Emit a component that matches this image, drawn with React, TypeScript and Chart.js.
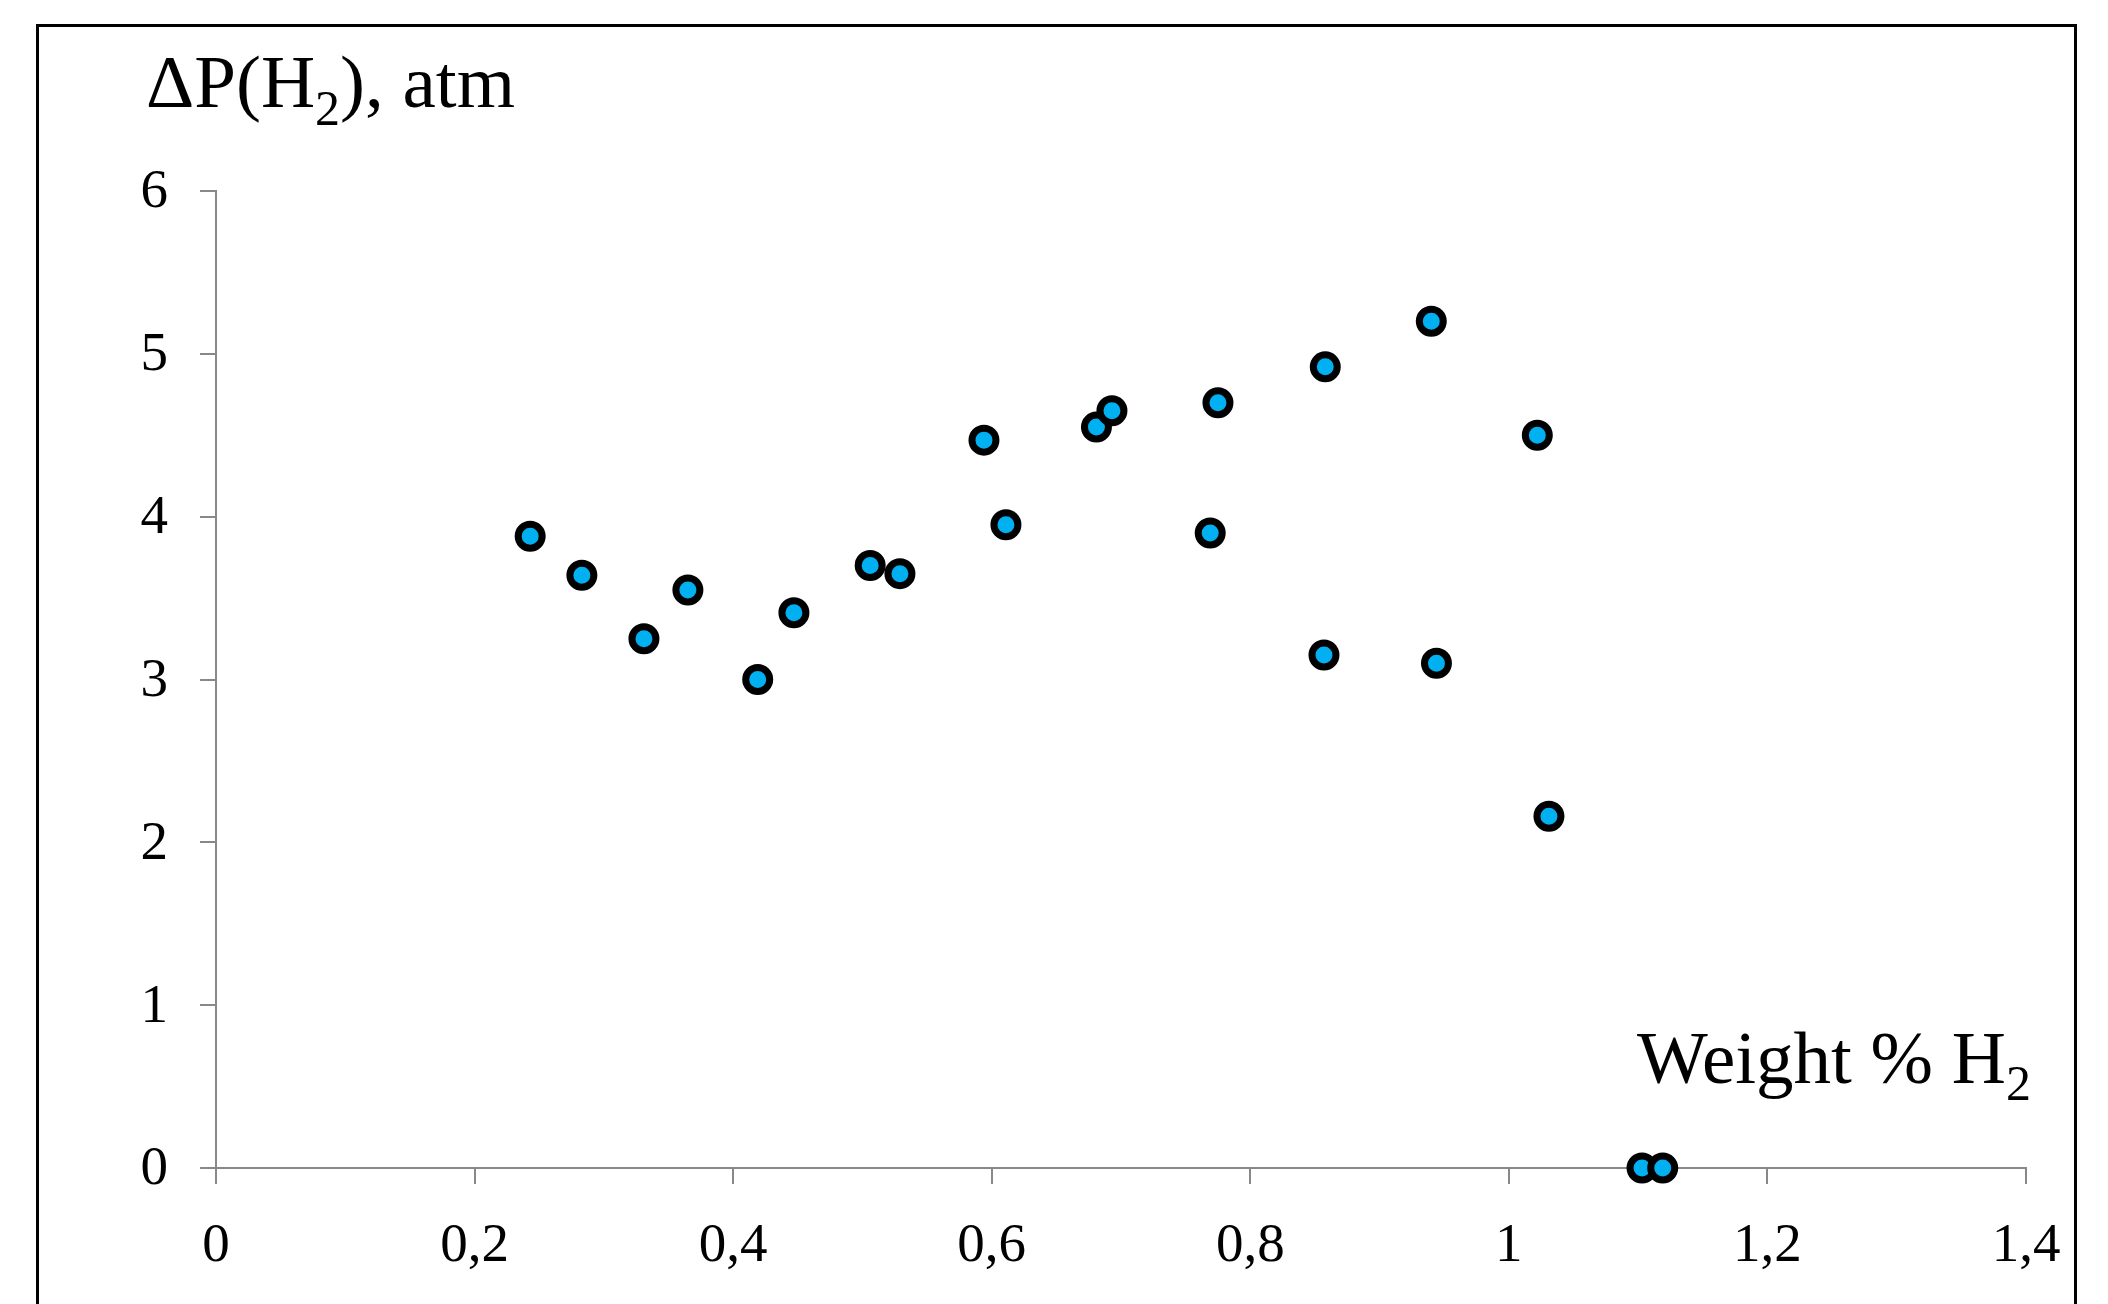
import React, { useEffect, useRef } from "react";
import { Chart, registerables } from "chart.js";

Chart.register(...registerables);

const weightH2 = [
  0.243, 0.283, 0.331, 0.365, 0.419, 0.447, 0.506, 0.529, 0.594, 0.611,
  0.681, 0.693, 0.769, 0.775, 0.857, 0.858, 0.94, 0.944, 1.022, 1.031,
  1.103, 1.119,
];
const deltaP = [
  3.88, 3.64, 3.25, 3.55, 3.0, 3.41, 3.70, 3.65, 4.47, 3.95,
  4.55, 4.65, 3.90, 4.70, 3.15, 4.92, 5.20, 3.10, 4.50, 2.16,
  0.0, 0.0,
];
const xTickValues = [0, 0.2, 0.4, 0.6, 0.8, 1, 1.2, 1.4];
const xTickLabels = ["0", "0,2", "0,4", "0,6", "0,8", "1", "1,2", "1,4"];
const yTickValues = [0, 1, 2, 3, 4, 5, 6];
const yTickLabels = ["0", "1", "2", "3", "4", "5", "6"];
const yTitleMain = "ΔP(H";
const yTitleSub = "2";
const yTitleEnd = "), atm";
const xTitleMain = "Weight % H";
const xTitleSub = "2";

const FONT = '"Liberation Serif", "Times New Roman", serif';

export default function App() {
  const ref = useRef<HTMLCanvasElement | null>(null);

  useEffect(() => {
    if (!ref.current) return;
    const decor = {
      id: "decor",
      beforeDraw(chart: any) {
        const ctx = chart.ctx;
        ctx.save();
        ctx.fillStyle = "#ffffff";
        ctx.fillRect(0, 0, chart.width, chart.height);
        ctx.strokeStyle = "#000000";
        ctx.lineWidth = 3;
        ctx.strokeRect(37.5, 25.5, 2038, 1400);
        ctx.restore();
      },
      afterDraw(chart: any) {
        const ctx = chart.ctx;
        ctx.save();
        ctx.fillStyle = "#000000";
        ctx.textBaseline = "alphabetic";
        ctx.textAlign = "left";
        // y-axis title
        let x = 146;
        ctx.font = `75px ${FONT}`;
        ctx.fillText(yTitleMain, x, 107);
        x += ctx.measureText(yTitleMain).width;
        ctx.font = `50px ${FONT}`;
        ctx.fillText(yTitleSub, x, 125);
        x += ctx.measureText(yTitleSub).width;
        ctx.font = `75px ${FONT}`;
        ctx.fillText(yTitleEnd, x, 107);
        // x-axis title (right aligned)
        ctx.font = `75px ${FONT}`;
        const w1 = ctx.measureText(xTitleMain).width;
        ctx.font = `50px ${FONT}`;
        const w2 = ctx.measureText(xTitleSub).width;
        const right = 2031;
        const xs = right - w1 - w2;
        ctx.font = `75px ${FONT}`;
        ctx.fillText(xTitleMain, xs, 1083);
        ctx.font = `50px ${FONT}`;
        ctx.fillText(xTitleSub, xs + w1, 1100);
        ctx.restore();
      },
    };

    const chart = new Chart(ref.current, {
      type: "scatter",
      data: {
        datasets: [
          {
            data: weightH2.map((v, i) => ({ x: v, y: deltaP[i] })),
            backgroundColor: "#00B0F0",
            borderColor: "#000000",
            pointRadius: 12,
            pointBorderWidth: 7,
            pointHoverRadius: 12,
            clip: false as any,
          },
        ],
      },
      options: {
        animation: false,
        responsive: false,
        devicePixelRatio: 1,
        layout: { padding: { left: 0, top: 191, right: 82, bottom: 0 } },
        plugins: {
          legend: { display: false },
          tooltip: { enabled: false },
          title: { display: false },
        },
        scales: {
          x: {
            type: "linear",
            min: 0,
            max: 1.4,
            afterBuildTicks: (scale: any) => {
              scale.ticks = xTickValues.map((v) => ({ value: v }));
            },
            afterFit: (scale: any) => {
              scale.height = 136;
            },
            grid: {
              drawOnChartArea: false,
              drawTicks: true,
              tickLength: 16,
              color: "#888888",
              lineWidth: 2,
            },
            border: { color: "#888888", width: 2 },
            ticks: {
              autoSkip: false,
              maxRotation: 0,
              padding: 30,
              color: "#000000",
              font: { family: FONT, size: 55 },
              callback: (value: any) => {
                const idx = xTickValues.findIndex((t) => Math.abs(t - Number(value)) < 1e-6);
                return idx >= 0 ? xTickLabels[idx] : "";
              },
            },
          },
          y: {
            type: "linear",
            min: 0,
            max: 6,
            afterBuildTicks: (scale: any) => {
              scale.ticks = yTickValues.map((v) => ({ value: v }));
            },
            afterFit: (scale: any) => {
              scale.width = 216;
            },
            grid: {
              drawOnChartArea: false,
              drawTicks: true,
              tickLength: 16,
              color: "#888888",
              lineWidth: 2,
            },
            border: { color: "#888888", width: 2 },
            ticks: {
              autoSkip: false,
              padding: 32,
              labelOffset: 2,
              color: "#000000",
              font: { family: FONT, size: 55 },
              callback: (value: any) => {
                const idx = yTickValues.findIndex((t) => Math.abs(t - Number(value)) < 1e-6);
                return idx >= 0 ? yTickLabels[idx] : "";
              },
            },
          },
        },
      },
      plugins: [decor],
    });
    return () => chart.destroy();
  }, []);

  return (
    <div
      style={{
        position: "fixed",
        left: 0,
        top: 0,
        width: 2108,
        height: 1304,
        overflow: "hidden",
        background: "#ffffff",
      }}
    >
      <canvas ref={ref} width={2108} height={1304} style={{ display: "block" }} />
    </div>
  );
}
